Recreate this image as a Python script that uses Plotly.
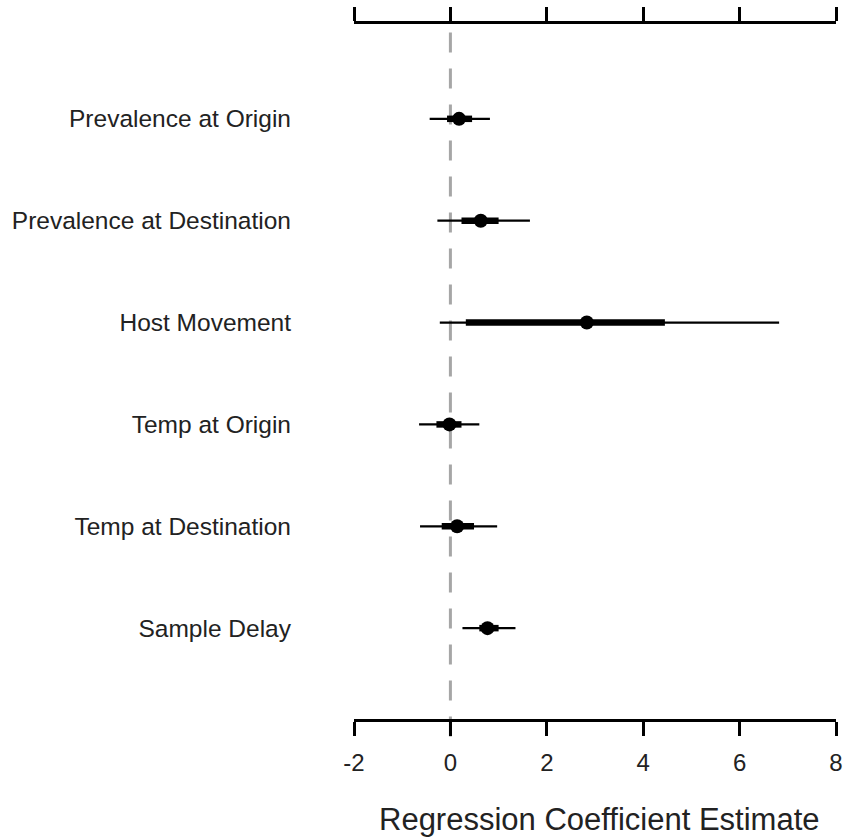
import plotly.graph_objects as go

labels = ["Prevalence at Origin", "Prevalence at Destination", "Host Movement",
          "Temp at Origin", "Temp at Destination", "Sample Delay"]
estimate = [0.18, 0.63, 2.83, -0.02, 0.14, 0.77]
outer_lo = [-0.43, -0.27, -0.22, -0.65, -0.63, 0.25]
outer_hi = [0.82, 1.65, 6.82, 0.60, 0.97, 1.35]
inner_lo = [-0.07, 0.23, 0.32, -0.29, -0.18, 0.60]
inner_hi = [0.45, 1.00, 4.45, 0.23, 0.49, 1.00]
x_ticks = [-2, 0, 2, 4, 6, 8]
x_ticktext = ["-2", "0", "2", "4", "6", "8"]

rows = list(range(1, len(labels) + 1))

def segs(lo, hi):
    xs, ys = [], []
    for a, b, r in zip(lo, hi, rows):
        xs += [a, b, None]
        ys += [r, r, None]
    return xs, ys

fig = go.Figure()
xo, yo = segs(outer_lo, outer_hi)
fig.add_trace(go.Scatter(x=xo, y=yo, mode="lines", line=dict(color="black", width=2.2),
                         hoverinfo="skip", showlegend=False))
xi, yi = segs(inner_lo, inner_hi)
fig.add_trace(go.Scatter(x=xi, y=yi, mode="lines", line=dict(color="black", width=6.5),
                         hoverinfo="skip", showlegend=False))
fig.add_trace(go.Scatter(x=estimate, y=rows, mode="markers",
                         marker=dict(color="black", size=14, line=dict(width=0)),
                         showlegend=False))
# invisible trace for top axis
fig.add_trace(go.Scatter(x=[x_ticks[0], x_ticks[-1]], y=[1, 1], mode="markers",
                         marker=dict(opacity=0), xaxis="x2", hoverinfo="skip",
                         showlegend=False))

fig.add_shape(type="line", xref="x", yref="paper", x0=0, x1=0, y0=-0.025, y1=1.0,
              line=dict(color="#a6a6a6", width=3, dash="20px,16px"), layer="below")

font = "Liberation Sans, Arial, sans-serif"
axis_common = dict(range=[-2, 8], tickvals=x_ticks, ticktext=x_ticktext, showline=True,
                   linecolor="black", linewidth=3, ticks="outside", ticklen=14,
                   tickwidth=3, tickcolor="black", showgrid=False, zeroline=False,
                   automargin=False)
fig.update_layout(
    width=846, height=837,
    margin=dict(l=354, r=10, t=24, b=118),
    paper_bgcolor="white", plot_bgcolor="white",
    font=dict(family=font, color="#222"),
    xaxis=dict(**axis_common, side="bottom",
               tickfont=dict(size=24, color="#222"), ticklabelstandoff=6),
    xaxis2=dict(**axis_common, side="top", overlaying="x", showticklabels=False),
    yaxis=dict(range=[6.892, 0.069], tickvals=rows, ticktext=labels, showgrid=False,
               zeroline=False, showline=False, ticks="", automargin=False,
               tickfont=dict(size=24.5, color="#222"), ticklabelstandoff=62),
    annotations=[dict(text="Regression Coefficient Estimate", xref="paper", yref="paper",
                      x=0.51, y=-0.1453, xanchor="center", yanchor="middle",
                      showarrow=False, font=dict(size=31, color="#222"))],
)
fig.write_html("out.html")
